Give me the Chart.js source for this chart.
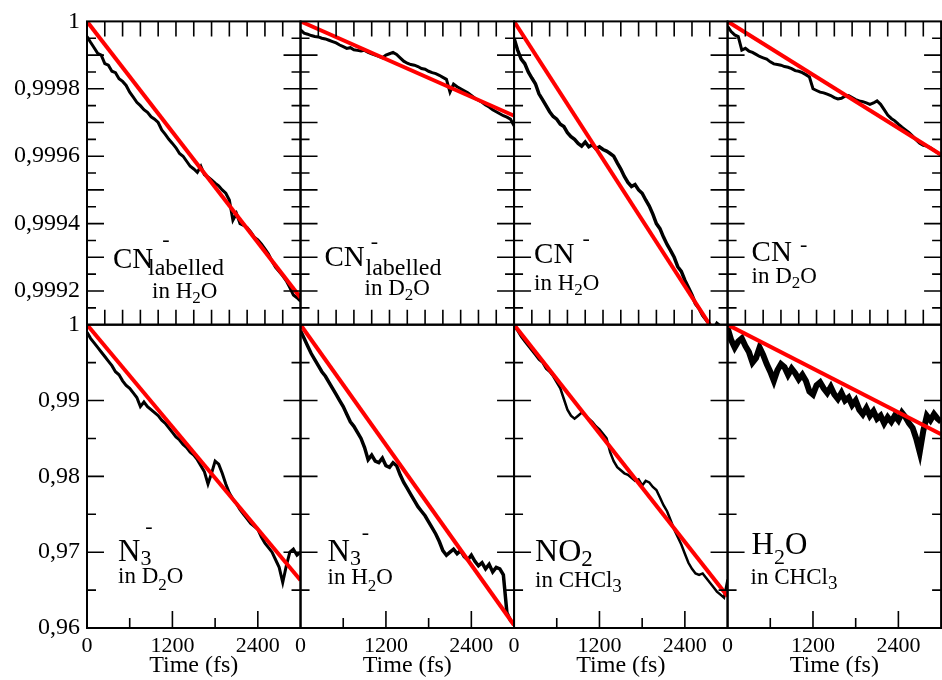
<!DOCTYPE html>
<html>
<head>
<meta charset="utf-8">
<script src="https://cdn.jsdelivr.net/npm/chart.js@4.4.1/dist/chart.umd.min.js"></script>
<style>
  html, body { margin: 0; padding: 0; background: #fff; overflow: hidden; }
  #wrap { position: relative; width: 942px; height: 680px; overflow: hidden; }
  #panels { position: absolute; left: 0; top: 0; }
</style>
</head>
<body>
<div id="wrap"><canvas id="panels" width="960" height="680"></canvas></div>
<script>
// time grid of the traces (fs)
const times = [0,50,100,150,200,250,300,350,400,450,500,550,600,650,700,750,800,850,900,950,
  1000,1050,1100,1150,1200,1250,1300,1350,1400,1450,1500,1550,1600,1650,1700,1750,1800,1850,1900,1950,
  2000,2050,2100,2150,2200,2250,2300,2350,2400,2450,2500,2550,2600,2650,2700,2750,2800,2850,2900,2950,3000];

// top row traces
const cnLabH2O = [0.999955,0.999938,0.999922,0.999905,0.9999,0.999875,0.99987,0.999852,0.999848,0.99983,
  0.999822,0.99981,0.99979,0.999775,0.99976,0.99975,0.999738,0.99973,0.999717,0.99971,
  0.9997,0.999678,0.999665,0.99965,0.999638,0.999625,0.999608,0.9996,0.999585,0.99957,
  0.999562,0.999552,0.99957,0.999545,0.999538,0.99953,0.99952,0.999512,0.9995,0.99949,
  0.99947,0.99941,0.99943,0.9994,0.999395,0.999388,0.999375,0.99936,0.999352,0.99934,
  0.999325,0.99931,0.999288,0.99927,0.999258,0.999245,0.99923,0.99921,0.999188,0.99918,0.99917];
const cnLabD2O = [0.999975,0.999965,0.999962,0.999958,0.999955,0.999954,0.99995,0.999948,0.999944,0.99994,
  0.999936,0.99993,0.999925,0.99992,0.999922,0.999916,0.999914,0.999912,0.999914,0.999908,
  0.999904,0.9999,0.999896,0.999892,0.9999,0.999904,0.999908,0.999902,0.999892,0.999882,
  0.999876,0.999872,0.99987,0.999866,0.99986,0.999858,0.999852,0.999848,0.999845,0.99984,
  0.999834,0.999828,0.99979,0.999814,0.999806,0.9998,0.999794,0.999788,0.99978,0.999772,
  0.999766,0.99976,0.999752,0.999746,0.999738,0.999732,0.999726,0.99972,0.999716,0.99971,0.99969];
const cnH2O = [0.99995,0.999915,0.999888,0.999875,0.99985,0.999832,0.999815,0.999785,0.999768,0.99975,
  0.999732,0.999718,0.99971,0.999695,0.999688,0.99967,0.999658,0.99965,0.999638,0.99963,
  0.999642,0.999628,0.999634,0.999622,0.999628,0.99962,0.999615,0.999608,0.9996,0.99958,
  0.999562,0.99954,0.999522,0.99951,0.999516,0.9995,0.99949,0.99947,0.999452,0.999428,
  0.9994,0.999385,0.99936,0.999338,0.99932,0.9993,0.999272,0.999258,0.999232,0.99921,
  0.999188,0.999162,0.999148,0.999128,0.999114,0.9991,0.999085,0.999104,0.999095,0.99908,0.99907];
const cnD2O = [0.999985,0.99997,0.99996,0.999955,0.999915,0.99992,0.999912,0.999908,0.999902,0.999896,
  0.999892,0.999888,0.99988,0.999874,0.999872,0.99987,0.999866,0.999864,0.99986,0.999854,
  0.999852,0.999848,0.999842,0.999835,0.9998,0.999795,0.99979,0.999788,0.999784,0.99978,
  0.999774,0.99977,0.999772,0.999778,0.99978,0.999774,0.999768,0.999764,0.999762,0.999758,
  0.999754,0.999758,0.999764,0.999754,0.999738,0.999722,0.999712,0.999705,0.999695,0.999686,
  0.999678,0.99967,0.99966,0.999648,0.999638,0.999632,0.99963,0.999625,0.999618,0.99961,0.999604];

// bottom row traces
const n3D2O = [0.999,0.9982,0.9976,0.997,0.9964,0.9958,0.9952,0.9946,0.9938,0.9934,
  0.9926,0.992,0.9916,0.991,0.9904,0.9892,0.9898,0.9892,0.9888,0.9884,
  0.988,0.9874,0.987,0.9864,0.9858,0.9852,0.9848,0.9842,0.9838,0.9832,
  0.9828,0.9822,0.9814,0.9806,0.979,0.9804,0.982,0.9816,0.9804,0.979,
  0.9778,0.977,0.9764,0.9756,0.975,0.9744,0.9738,0.9734,0.973,0.972,
  0.9712,0.9706,0.97,0.969,0.968,0.966,0.9682,0.97,0.9704,0.9696,0.97];
const n3H2O = [0.9992,0.9982,0.9972,0.9962,0.9954,0.9946,0.9938,0.9932,0.9924,0.9916,
  0.9908,0.99,0.9892,0.9882,0.9872,0.9866,0.9858,0.985,0.9838,0.9822,
  0.9828,0.982,0.9818,0.9824,0.9814,0.9812,0.9818,0.9814,0.9802,0.9792,
  0.9784,0.9776,0.9768,0.976,0.9754,0.9748,0.974,0.9732,0.9724,0.9714,
  0.9702,0.9696,0.97,0.9704,0.9698,0.9702,0.9694,0.969,0.9696,0.9688,
  0.9682,0.9686,0.9678,0.9684,0.9674,0.968,0.9678,0.967,0.962,0.961,0.9605];
const no2CHCl3 = [0.9998,0.9992,0.9984,0.9978,0.9972,0.9966,0.996,0.9954,0.995,0.9942,
  0.9938,0.9932,0.9924,0.9916,0.9902,0.9888,0.988,0.9876,0.988,0.9884,
  0.988,0.9876,0.9872,0.9866,0.9862,0.9856,0.985,0.9832,0.982,0.9812,
  0.9808,0.9804,0.9802,0.9798,0.9794,0.9796,0.9788,0.9794,0.9792,0.9786,
  0.9782,0.9772,0.9762,0.9754,0.9742,0.973,0.972,0.971,0.9698,0.9686,
  0.9678,0.9672,0.967,0.9672,0.9666,0.966,0.9654,0.9648,0.9644,0.964,0.9664];
const h2oCHCl3 = [0.9996,0.998,0.997,0.9978,0.9982,0.9972,0.9964,0.995,0.9956,0.997,
  0.996,0.9948,0.9938,0.9926,0.994,0.9948,0.9944,0.9934,0.9942,0.9936,
  0.9928,0.9934,0.9926,0.9912,0.9908,0.992,0.9924,0.9916,0.991,0.9918,
  0.9908,0.9902,0.991,0.99,0.9904,0.9894,0.99,0.9888,0.9882,0.989,
  0.988,0.9886,0.9876,0.988,0.987,0.9878,0.9872,0.988,0.9874,0.9884,
  0.9878,0.987,0.9864,0.985,0.9832,0.986,0.988,0.9874,0.9882,0.9876,0.9872];

// straight-line fits (value at 0 fs and at 3000 fs)
const fitStart = [1, 1, 1, 1, 1, 1, 1, 1];
const fitEnd = [0.99918, 0.99972, 0.999018, 0.999604, 0.9663, 0.9604, 0.9642, 0.98556];

// ticks and labels
const timeTicks = [0, 1200, 2400];
const timeTickLabels = ['0', '1200', '2400'];
const topTicks = [0.9992, 0.9994, 0.9996, 0.9998, 1];
const topTickLabels = ['0,9992', '0,9994', '0,9996', '0,9998', '1'];
const bottomTicks = [0.96, 0.97, 0.98, 0.99, 1];
const bottomTickLabels = ['0,96', '0,97', '0,98', '0,99', '1'];

// inner tick marks
const topYLong = [0.9992, 0.9993, 0.9994, 0.9995, 0.9996, 0.9997, 0.9998, 0.9999];
const topYShort = [0.99915, 0.99925, 0.99935, 0.99945, 0.99955, 0.99965, 0.99975, 0.99985, 0.99995];
const bottomYLong = [0.97, 0.98, 0.99];
const bottomYShort = [0.965, 0.975, 0.985, 0.995];
const topXMarks = [250, 500, 750, 1000, 1250, 1500, 1750, 2000, 2250, 2500, 2750];
const bottomXLong = [1200, 2400];
const bottomXShort = [600, 1800];

const traces = [cnLabH2O, cnLabD2O, cnH2O, cnD2O, n3D2O, n3H2O, no2CHCl3, h2oCHCl3];
// stroke width of each trace (the noisier ones are drawn heavier)
const traceWidth = [3, 3, 3.5, 3, 3, 3.5, 2.5, 6];

const SERIF = '"Liberation Serif", "DejaVu Serif", serif';

// panel captions (offsets from the panel's top-left corner)
const captions = [
  { main: [26, 247, [['CN', 29, 0]]], minus: [79, 219], extra: [61, 254, [['labelled', 24, 0]]],
    line2: [65, 277, [['in H', 23, 0], ['2', 17, 5], ['O', 23, 0]]] },
  { main: [24, 245, [['CN', 29, 0]]], minus: [74, 221], extra: [65, 254, [['labelled', 24, 0]]],
    line2: [64, 274, [['in D', 23, 0], ['2', 17, 5], ['O', 23, 0]]] },
  { main: [20, 242, [['CN', 29, 0]]], minus: [72, 218],
    line2: [20, 269, [['in H', 23, 0], ['2', 17, 5], ['O', 23, 0]]] },
  { main: [24, 240, [['CN', 29, 0]]], minus: [76, 224],
    line2: [24, 262, [['in D', 23, 0], ['2', 17, 5], ['O', 23, 0]]] },
  { main: [31, 236, [['N', 31, 0], ['3', 22, 4]]], minus: [62, 203],
    line2: [31, 258, [['in D', 23, 0], ['2', 17, 7], ['O', 23, 0]]] },
  { main: [27, 236, [['N', 31, 0], ['3', 22, 4]]], minus: [65, 209],
    line2: [27, 259, [['in H', 23, 0], ['2', 17, 7], ['O', 23, 0]]] },
  { main: [21, 236, [['NO', 32, 0], ['2', 23, 5]]],
    line2: [21, 262, [['in CHCl', 23, 0], ['3', 19, 5]]] },
  { main: [24, 229, [['H', 31, 0], ['2', 22, 10], ['O', 31, 0]]],
    line2: [23, 259, [['in CHCl', 23, 0], ['3', 19, 5]]] }
];

function drawRuns(ctx, x, y, runs) {
  ctx.textAlign = 'left';
  ctx.textBaseline = 'alphabetic';
  runs.forEach(r => {
    ctx.font = r[1] + 'px ' + SERIF;
    ctx.fillText(r[0], x, y + r[2]);
    x += ctx.measureText(r[0]).width;
  });
}

const framePlugin = {
  id: 'frames',
  afterDraw(chart) {
    const ctx = chart.ctx;
    ctx.save();
    ctx.strokeStyle = '#000';
    ctx.fillStyle = '#000';
    for (let p = 0; p < 8; p++) {
      const row = Math.floor(p / 4);
      const xs = chart.scales['x' + (p % 4)];
      const ys = chart.scales[row === 0 ? 'yTop' : 'yBot'];
      const L = xs.left, R = xs.right, T = ys.top, B = ys.bottom;

      ctx.lineWidth = 1.6;
      ctx.beginPath();
      const yMarks = row === 0 ? [[topYLong, 17], [topYShort, 9]] : [[bottomYLong, 17], [bottomYShort, 9]];
      yMarks.forEach(([vals, len]) => {
        vals.forEach(v => {
          const y = ys.getPixelForValue(v);
          ctx.moveTo(L, y); ctx.lineTo(L + len, y);
          ctx.moveTo(R, y); ctx.lineTo(R - len, y);
        });
      });
      if (row === 0) {
        topXMarks.forEach(v => {
          const x = xs.getPixelForValue(v);
          ctx.moveTo(x, T); ctx.lineTo(x, T + 15);
          ctx.moveTo(x, B); ctx.lineTo(x, B - 15);
        });
      } else {
        [[bottomXLong, 17], [bottomXShort, 10]].forEach(([vals, len]) => {
          vals.forEach(v => {
            const x = xs.getPixelForValue(v);
            ctx.moveTo(x, B); ctx.lineTo(x, B - len);
          });
        });
      }
      ctx.stroke();

      ctx.lineWidth = 2;
      ctx.strokeRect(L, T, R - L, B - T);

      const c = captions[p];
      drawRuns(ctx, L + c.main[0], T + c.main[1], c.main[2]);
      if (c.extra) drawRuns(ctx, L + c.extra[0], T + c.extra[1], c.extra[2]);
      drawRuns(ctx, L + c.line2[0], T + c.line2[1], c.line2[2]);
      if (c.minus) {
        ctx.font = '22px ' + SERIF;
        ctx.textAlign = 'center';
        ctx.textBaseline = 'middle';
        ctx.fillText('-', L + c.minus[0], T + c.minus[1]);
      }
    }
    ctx.restore();
  }
};

const datasets = [];
traces.forEach((trace, p) => {
  const xId = 'x' + (p % 4);
  const yId = p < 4 ? 'yTop' : 'yBot';
  datasets.push({
    data: [{ x: 0, y: fitStart[p] }, { x: 3000, y: fitEnd[p] }],
    xAxisID: xId, yAxisID: yId,
    borderColor: '#ff0000', borderWidth: 4, pointRadius: 0, order: 0
  });
  datasets.push({
    data: times.map((t, i) => ({ x: t, y: trace[i] })),
    xAxisID: xId, yAxisID: yId,
    borderColor: '#000', borderWidth: traceWidth[p], pointRadius: 0, order: 1
  });
});

const scales = {};
for (let c = 0; c < 4; c++) {
  scales['x' + c] = {
    type: 'linear', position: 'bottom', stack: 'cols', stackWeight: 1,
    min: 0, max: 3000,
    afterBuildTicks: s => { s.ticks = timeTicks.map(v => ({ value: v })); },
    afterFit: s => { s.height = 52; },
    grid: { display: false, drawTicks: false },
    border: { display: false },
    ticks: {
      autoSkip: false, maxRotation: 0, padding: 5, color: '#000',
      font: { family: SERIF, size: 22 },
      callback: (v, i) => timeTickLabels[i]
    },
    title: { display: true, text: 'Time (fs)', color: '#000', font: { family: SERIF, size: 24 }, padding: 0 }
  };
}
function yScale(min, tickVals, tickLabels) {
  return {
    type: 'linear', position: 'left', stack: 'rows', stackWeight: 1,
    min: min, max: 1,
    afterBuildTicks: s => { s.ticks = tickVals.map(v => ({ value: v })); },
    afterFit: s => { s.width = 87; },
    grid: { display: false, drawTicks: false },
    border: { display: false },
    ticks: {
      autoSkip: false, padding: 7, color: '#000',
      font: { family: SERIF, size: 24 },
      callback: (v, i) => tickLabels[i]
    }
  };
}
scales.yBot = yScale(0.96, bottomTicks, bottomTickLabels);
scales.yTop = yScale(0.9991, topTicks, topTickLabels);

new Chart(document.getElementById('panels').getContext('2d'), {
  type: 'line',
  data: { datasets: datasets },
  options: {
    responsive: false,
    animation: false,
    layout: { padding: { left: 0, top: 20, right: 10, bottom: 0 } },
    plugins: { legend: { display: false }, tooltip: { enabled: false } },
    elements: { line: { tension: 0 } },
    scales: scales
  },
  plugins: [framePlugin]
});
</script>
</body>
</html>
